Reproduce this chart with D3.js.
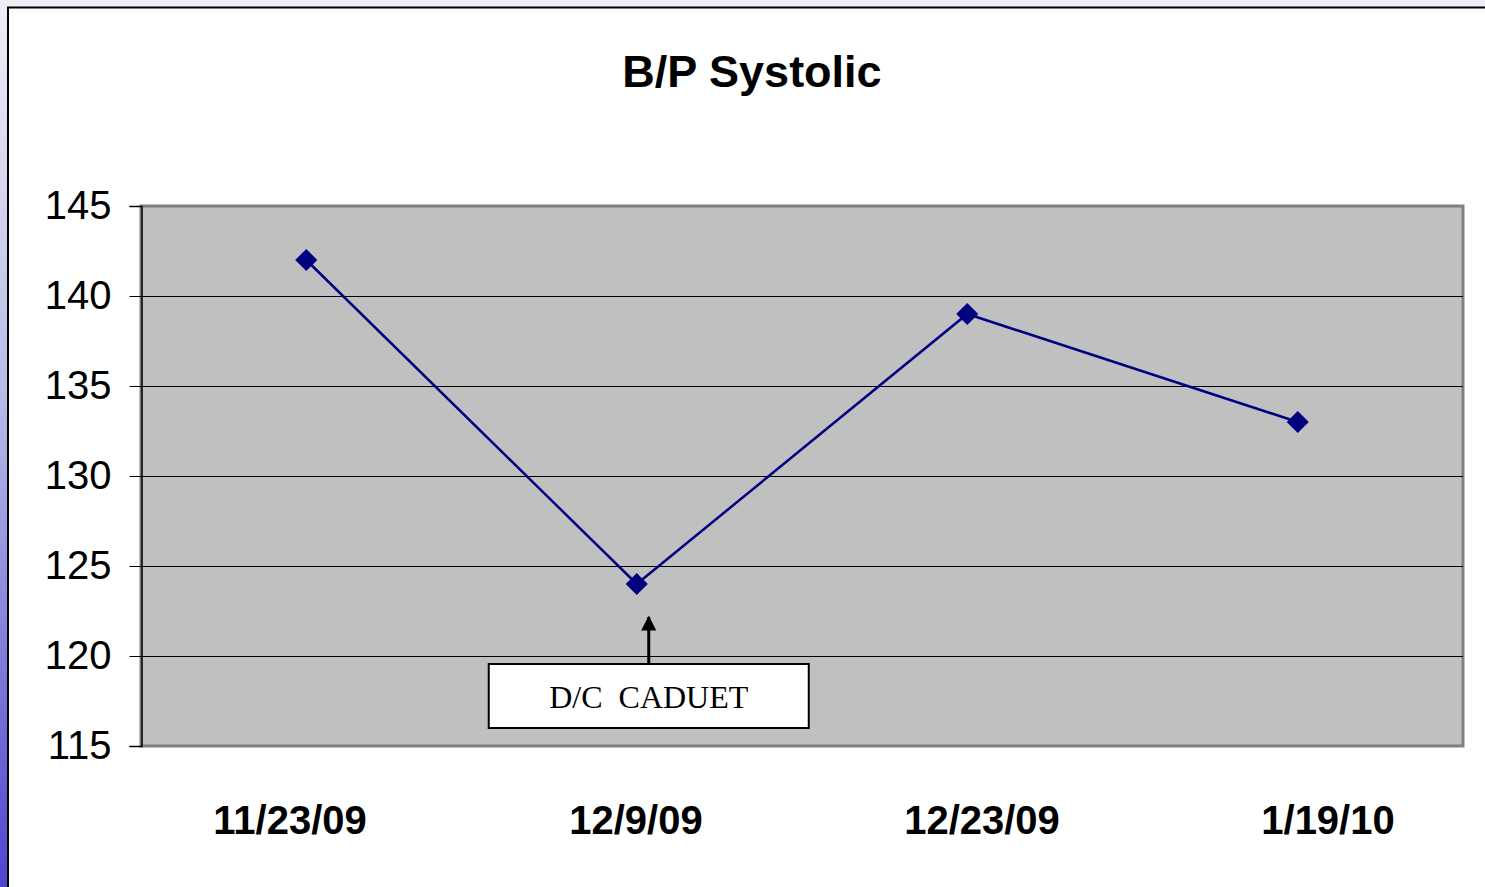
<!DOCTYPE html>
<html>
<head>
<meta charset="utf-8">
<script src="https://cdn.jsdelivr.net/npm/d3@7"></script>
<style>
  html, body { margin: 0; padding: 0; background: #eeeef8; }
  svg { display: block; }
</style>
</head>
<body>
<div id="chart"></div>
<script>
// chart data
var dates = ["11/23/09", "12/9/09", "12/23/09", "1/19/10"];
var systolic = [142, 124, 139, 133];
var yTicks = [115, 120, 125, 130, 135, 140, 145];
var noteDate = "12/9/09";
var noteText = "D/C  CADUET";

var W = 1485, H = 887;

var svg = d3.select("#chart").append("svg")
	.attr("width", W)
	.attr("height", H);

// left gradient strip
var defs = svg.append("defs");
var grad = defs.append("linearGradient")
	.attr("id", "strip")
	.attr("x1", 0).attr("y1", 0).attr("x2", 0).attr("y2", 1);
grad.append("stop").attr("offset", "0%").attr("stop-color", "#eeeef8");
grad.append("stop").attr("offset", "45%").attr("stop-color", "#b9b9e6");
grad.append("stop").attr("offset", "100%").attr("stop-color", "#4c45cf");

svg.append("rect")
	.attr("x", 0).attr("y", 0)
	.attr("width", 8).attr("height", H)
	.attr("fill", "url(#strip)");

// slide frame
svg.append("rect")
	.attr("x", 8).attr("y", 7.5)
	.attr("width", W + 10).attr("height", H + 10)
	.attr("fill", "#ffffff")
	.attr("stroke", "#000000")
	.attr("stroke-width", 2);

// plot area
var plot = { left: 141, top: 206, right: 1463, bottom: 746 };

var x = d3.scaleBand()
	.domain(dates)
	.range([plot.left, plot.right]);

// category labels sit a bit wider than the bands (as in the original)
var xLabel = d3.scalePoint()
	.domain(dates)
	.range([290, 1328]);

var y = d3.scaleLinear()
	.domain([115, 145])
	.range([plot.bottom, plot.top]);

svg.append("text")
	.attr("x", 752)
	.attr("y", 87)
	.attr("text-anchor", "middle")
	.style("font-family", "Liberation Sans, Arial, sans-serif")
	.style("font-weight", "bold")
	.style("font-size", "45px")
	.text("B/P Systolic");

// gray background with shadow border
svg.append("rect")
	.attr("x", plot.left).attr("y", plot.top)
	.attr("width", plot.right - plot.left)
	.attr("height", plot.bottom - plot.top)
	.attr("fill", "#c0c0c0")
	.attr("stroke", "#808080")
	.attr("stroke-width", 3);

// gridlines
svg.append("g")
	.selectAll("line")
	.data(yTicks.slice(1, -1))
	.enter().append("line")
	.attr("x1", plot.left).attr("x2", plot.right)
	.attr("y1", function(d) { return Math.round(y(d)) + 0.5; })
	.attr("y2", function(d) { return Math.round(y(d)) + 0.5; })
	.attr("stroke", "#000000")
	.attr("stroke-width", 1);

// y axis
var yAxis = d3.axisLeft(y)
	.tickValues(yTicks)
	.tickSize(12)
	.tickPadding(18);

var yg = svg.append("g")
	.attr("transform", "translate(" + (plot.left + 0.5) + ",0)")
	.call(yAxis);
yg.select(".domain").attr("stroke", "#000000").attr("stroke-width", 1.5);
yg.selectAll(".tick line").attr("stroke", "#000000");
yg.selectAll(".tick text")
	.attr("fill", "#000000")
	.style("font-family", "Liberation Sans, Arial, sans-serif")
	.style("font-size", "40px");

// x labels
svg.append("g")
	.selectAll("text")
	.data(dates)
	.enter().append("text")
	.attr("x", function(d) { return xLabel(d); })
	.attr("y", 834)
	.attr("text-anchor", "middle")
	.style("font-family", "Liberation Sans, Arial, sans-serif")
	.style("font-weight", "bold")
	.style("font-size", "40px")
	.text(function(d) { return d; });

// series line
var cx = function(d, i) { return x(dates[i]) + x.bandwidth() / 2; };

var line = d3.line()
	.x(function(d, i) { return cx(d, i); })
	.y(function(d) { return y(d); });

svg.append("path")
	.datum(systolic)
	.attr("d", line)
	.attr("fill", "none")
	.attr("stroke", "#000080")
	.attr("stroke-width", 2.5);

svg.append("g")
	.selectAll("path")
	.data(systolic)
	.enter().append("path")
	.attr("d", d3.symbol().type(d3.symbolSquare).size(245))
	.attr("transform", function(d, i) {
		return "translate(" + cx(d, i) + "," + y(d) + ") rotate(45)";
	})
	.attr("fill", "#000080");

// annotation box and arrow
var noteX = x(noteDate) + x.bandwidth() / 2 + 12;
var boxW = 320, boxH = 64, boxTop = 664;

defs.append("marker")
	.attr("id", "arrow")
	.attr("viewBox", "0 0 10 10")
	.attr("refX", 9).attr("refY", 5)
	.attr("markerWidth", 5).attr("markerHeight", 5)
	.attr("markerUnits", "strokeWidth")
	.attr("orient", "auto")
	.append("path")
	.attr("d", "M0,0 L10,5 L0,10 z")
	.attr("fill", "#000000");

svg.append("line")
	.attr("x1", noteX).attr("x2", noteX)
	.attr("y1", boxTop).attr("y2", 617)
	.attr("stroke", "#000000")
	.attr("stroke-width", 3)
	.attr("marker-end", "url(#arrow)");

svg.append("rect")
	.attr("x", noteX - boxW / 2).attr("y", boxTop)
	.attr("width", boxW).attr("height", boxH)
	.attr("fill", "#ffffff")
	.attr("stroke", "#000000")
	.attr("stroke-width", 2);

svg.append("text")
	.attr("x", noteX)
	.attr("y", 708)
	.attr("text-anchor", "middle")
	.style("font-family", "Liberation Serif, Times New Roman, serif")
	.style("font-size", "32px")
	.style("white-space", "pre")
	.attr("xml:space", "preserve")
	.text(noteText);
</script>
</body>
</html>
